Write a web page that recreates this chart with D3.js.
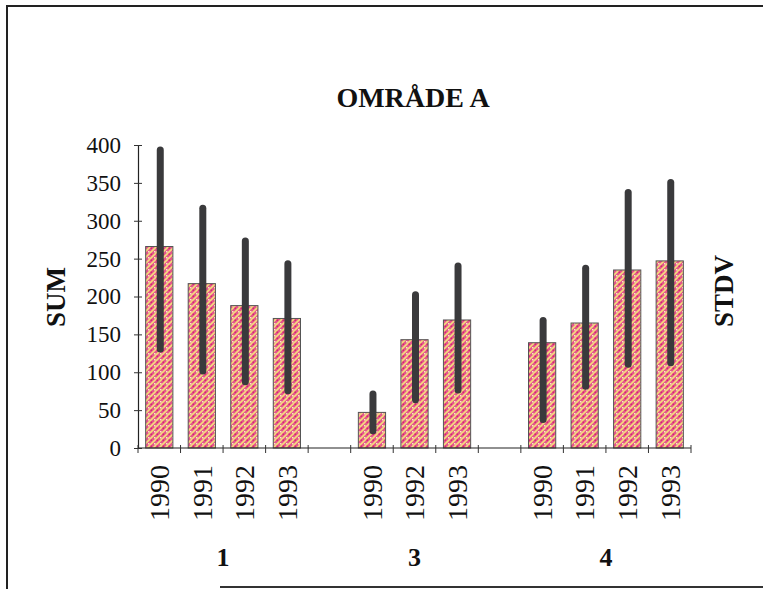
<!DOCTYPE html>
<html>
<head>
<meta charset="utf-8">
<script src="https://cdn.jsdelivr.net/npm/d3@7"></script>
<style>
  body { margin: 0; background: #fff; }
  text { font-family: 'Liberation Serif', 'Times New Roman', serif; fill: #111; }
</style>
</head>
<body>
<div id="chart"></div>
<script>
// values
const slotYears = ['1990', '1991', '1992', '1993', '', '1990', '1992', '1993', '', '1990', '1991', '1992', '1993'];
const slotGroups = ['1', '1', '1', '1', '', '3', '3', '3', '', '4', '4', '4', '4'];
const groupNames = ['1', '3', '4'];
const sumValues = [266, 217, 188, 171, null, 47, 143, 169, null, 139, 165, 235, 247];
const stdvHigh = [398, 321, 278, 248, null, 76, 207, 245, null, 173, 242, 342, 355];
const stdvLow = [126, 97, 83, 71, null, 18, 59, 72, null, 33, 77, 106, 108];
const yTicks = [0, 50, 100, 150, 200, 250, 300, 350, 400];

const W = 763;
const H = 589;

const margin = { top: 145, right: 72, bottom: 141, left: 138 };

const svg = d3
  .select('#chart')
  .append('svg')
  .attr('width', W)
  .attr('height', H);

svg.append('rect').attr('width', W).attr('height', H).attr('fill', '#fff');

// bar fill pattern (magenta with yellow speckles)
const defs = svg.append('defs');
const pat = defs
  .append('pattern')
  .attr('id', 'speckle')
  .attr('patternUnits', 'userSpaceOnUse')
  .attr('width', 6)
  .attr('height', 6);
pat.append('rect').attr('width', 6).attr('height', 6).attr('fill', '#e5558c');
pat
  .append('path')
  .attr('d', 'M0,6 L6,0 M-1,1 L1,-1 M5,7 L7,5')
  .attr('stroke', '#f4de7c')
  .attr('stroke-width', 1.6);
pat
  .append('rect')
  .attr('x', 4)
  .attr('y', 4)
  .attr('width', 1.5)
  .attr('height', 1.5)
  .attr('fill', '#fbf0c0');
pat
  .append('rect')
  .attr('x', 0.5)
  .attr('y', 0.5)
  .attr('width', 1.5)
  .attr('height', 1.5)
  .attr('fill', '#d42a6c');

// frame of the scanned page
svg
  .append('path')
  .attr('d', `M${W + 2},6 L7,6 L7,${H + 2}`)
  .attr('fill', 'none')
  .attr('stroke', '#222')
  .attr('stroke-width', 2);
svg
  .append('line')
  .attr('x1', 220)
  .attr('x2', W)
  .attr('y1', 587)
  .attr('y2', 587)
  .attr('stroke', '#333')
  .attr('stroke-width', 2);

const width = W - margin.left - margin.right;
const height = H - margin.top - margin.bottom;

const g = svg
  .append('g')
  .attr('transform', `translate(${margin.left},${margin.top})`);

const slots = d3.range(slotYears.length);

const x = d3
  .scaleBand()
  .domain(slots)
  .range([0, width])
  .paddingInner(0.36)
  .paddingOuter(0.18);

const y = d3.scaleLinear().domain([0, 400]).range([height, 0]);

const step = x.step();
const boundary = i => x(i) - (step - x.bandwidth()) / 2;

// bars
g
  .append('g')
  .selectAll('rect')
  .data(slots.filter(i => sumValues[i] != null))
  .enter()
  .append('rect')
  .attr('x', i => x(i))
  .attr('y', i => y(sumValues[i]))
  .attr('width', x.bandwidth())
  .attr('height', i => y(0) - y(sumValues[i]))
  .attr('fill', 'url(#speckle)')
  .attr('stroke', '#555')
  .attr('stroke-width', 1);

// stdv lines
const capR = 3.5;
g
  .append('g')
  .selectAll('line')
  .data(slots.filter(i => stdvHigh[i] != null))
  .enter()
  .append('line')
  .attr('x1', i => x(i) + x.bandwidth() / 2 + 1)
  .attr('x2', i => x(i) + x.bandwidth() / 2 + 1)
  .attr('y1', i => y(stdvHigh[i]) + capR)
  .attr('y2', i => y(stdvLow[i]) - capR)
  .attr('stroke', '#3a3a3c')
  .attr('stroke-width', 7)
  .attr('stroke-linecap', 'round');

// y axis
const yAxis = g
  .append('g')
  .call(
    d3
      .axisLeft(y)
      .tickValues(yTicks)
      .tickSize(0)
      .tickPadding(17)
  );
yAxis.select('.domain').attr('stroke', '#222').attr('stroke-width', 1.2);
yAxis
  .selectAll('.tick line')
  .attr('x1', -4)
  .attr('x2', 4)
  .attr('stroke', '#333');
yAxis
  .selectAll('.tick text')
  .style('font-family', "'Liberation Serif', serif")
  .style('font-size', '23px')
  .attr('fill', '#111');

// x axis
g
  .append('line')
  .attr('x1', 0)
  .attr('x2', width)
  .attr('y1', y(0))
  .attr('y2', y(0))
  .attr('stroke', '#222')
  .attr('stroke-width', 1.2);

g
  .append('g')
  .selectAll('line')
  .data(d3.range(slots.length + 1))
  .enter()
  .append('line')
  .attr('x1', i => (i < slots.length ? boundary(i) : width))
  .attr('x2', i => (i < slots.length ? boundary(i) : width))
  .attr('y1', y(0) - 3)
  .attr('y2', y(0) + 5)
  .attr('stroke', '#333');

// year labels
g
  .append('g')
  .selectAll('text')
  .data(slots.filter(i => slotYears[i] !== ''))
  .enter()
  .append('text')
  .attr(
    'transform',
    i => `translate(${x(i) + x.bandwidth() / 2},${y(0) + 17}) rotate(-90)`
  )
  .attr('text-anchor', 'end')
  .attr('dy', '0.35em')
  .style('font-size', '28px')
  .text(i => slotYears[i]);

// group labels
g
  .append('g')
  .selectAll('text')
  .data(groupNames)
  .enter()
  .append('text')
  .attr('x', name => {
    const idx = slots.filter(i => slotGroups[i] === name);
    return (boundary(idx[0]) + boundary(idx[idx.length - 1]) + step) / 2;
  })
  .attr('y', 566 - margin.top)
  .attr('text-anchor', 'middle')
  .style('font-size', '26px')
  .style('font-weight', 'bold')
  .text(d => d);

// title
svg
  .append('text')
  .attr('x', 413)
  .attr('y', 107)
  .attr('text-anchor', 'middle')
  .style('font-size', '28px')
  .style('font-weight', 'bold')
  .text('OMRÅDE A');

// axis titles
svg
  .append('text')
  .attr('transform', 'translate(56,297) rotate(-90)')
  .attr('text-anchor', 'middle')
  .attr('dy', '0.35em')
  .style('font-size', '27px')
  .style('font-weight', 'bold')
  .text('SUM');

svg
  .append('text')
  .attr('transform', 'translate(724,291) rotate(-90)')
  .attr('text-anchor', 'middle')
  .attr('dy', '0.35em')
  .style('font-size', '27px')
  .style('font-weight', 'bold')
  .text('STDV');
</script>
</body>
</html>
